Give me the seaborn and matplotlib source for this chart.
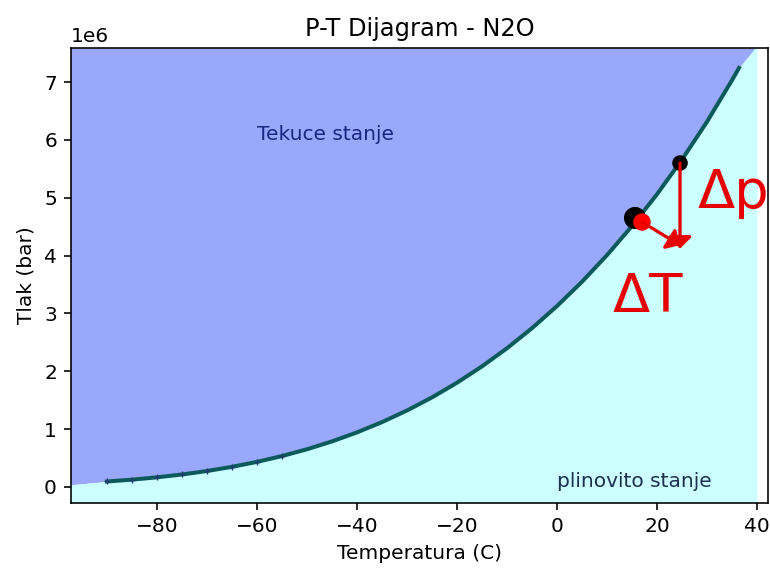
import matplotlib
matplotlib.use("Agg")
import matplotlib.pyplot as plt
import seaborn as sns
import pandas as pd

# Saturation curve of N2O (temperature in C, pressure in Pa)
temperature = [-90, -85, -80, -75, -70, -65, -60, -55, -50, -45, -40, -35, -30,
               -25, -20, -15, -10, -5, 0, 5, 10, 15, 20, 25, 30, 35, 36.4]
pressure = [0.0923e6, 0.1242e6, 0.1642e6, 0.2136e6, 0.2736e6, 0.3458e6, 0.4315e6,
            0.5323e6, 0.6499e6, 0.7858e6, 0.9417e6, 1.1193e6, 1.3206e6, 1.5471e6,
            1.8007e6, 2.0834e6, 2.3972e6, 2.7442e6, 3.1266e6, 3.5468e6, 4.0071e6,
            4.5106e6, 5.0603e6, 5.6604e6, 6.3148e6, 7.0330e6, 7.245e6]

# Phase boundary used for the coloured regions (extends beyond the curve)
boundary_t = [-98] + temperature + [40]
boundary_p = [0.03e6] + pressure + [7.63e6]

# Marked points and arrows
black_t = [15.6, 24.6]
black_p = [4.65e6, 5.60e6]
red_t = [17.0]
red_p = [4.58e6]
dp_arrow = [(24.6, 5.60e6), (24.6, 4.12e6)]
dt_arrow = [(17.0, 4.58e6), (24.6, 4.18e6)]

title = "P-T Dijagram - N2O"
xlabel = "Temperatura (C)"
ylabel = "Tlak (bar)"
liquid_label = "Tekuce stanje"
gas_label = "plinovito stanje"

xlim = (-97.2, 42.2)
ylim = (-0.28e6, 7.59e6)

fig = plt.figure(figsize=(770 / 145, 568 / 145), dpi=145)
ax = fig.add_subplot(111)
fig.subplots_adjust(left=0.0922, right=0.9974, bottom=0.1144, top=0.9155)

ax.fill_between(boundary_t, boundary_p, ylim[1], color="#9aa8fc", lw=0, zorder=0)
ax.fill_between(boundary_t, ylim[0], boundary_p, color="#ccffff", lw=0, zorder=0)

df = pd.DataFrame({"T": temperature, "p": pressure})
sns.lineplot(data=df, x="T", y="p", ax=ax, color="#0c5a5c", lw=2.0, zorder=3)
ax.plot(temperature[:8], pressure[:8], ls="none", marker="+", ms=2.5, mew=0.7,
        color="#1e3c6e", zorder=4)

sns.scatterplot(x=black_t, y=black_p, ax=ax, color="black", s=[120, 60],
                edgecolor="none", zorder=5, legend=False)
sns.scatterplot(x=red_t, y=red_p, ax=ax, color="red", s=75, edgecolor="none",
                zorder=6, legend=False)

arrow_kw = dict(arrowstyle="-|>,head_width=0.4,head_length=0.4", color="#e60000",
                lw=1.6, mutation_scale=12, shrinkA=0, shrinkB=0)
ax.annotate("", xy=dp_arrow[1], xytext=dp_arrow[0], arrowprops=arrow_kw, zorder=7)
ax.annotate("", xy=dt_arrow[1], xytext=dt_arrow[0], arrowprops=arrow_kw, zorder=7)

ax.text(28.2, 4.82e6, "\u0394p", color="#e60000", fontsize=27)
ax.text(11.2, 3.02e6, "\u0394T", color="#e60000", fontsize=27)

ax.text(-60, 6.0e6, liquid_label, color="#1a2580", fontsize=10)
ax.text(0, 0.0, gas_label, color="#1e2f50", fontsize=10)

ax.set_xlim(xlim)
ax.set_ylim(ylim)
ax.set_title(title)
ax.set_xlabel(xlabel)
ax.set_ylabel(ylabel)

fig.savefig("out.png", dpi=145)
